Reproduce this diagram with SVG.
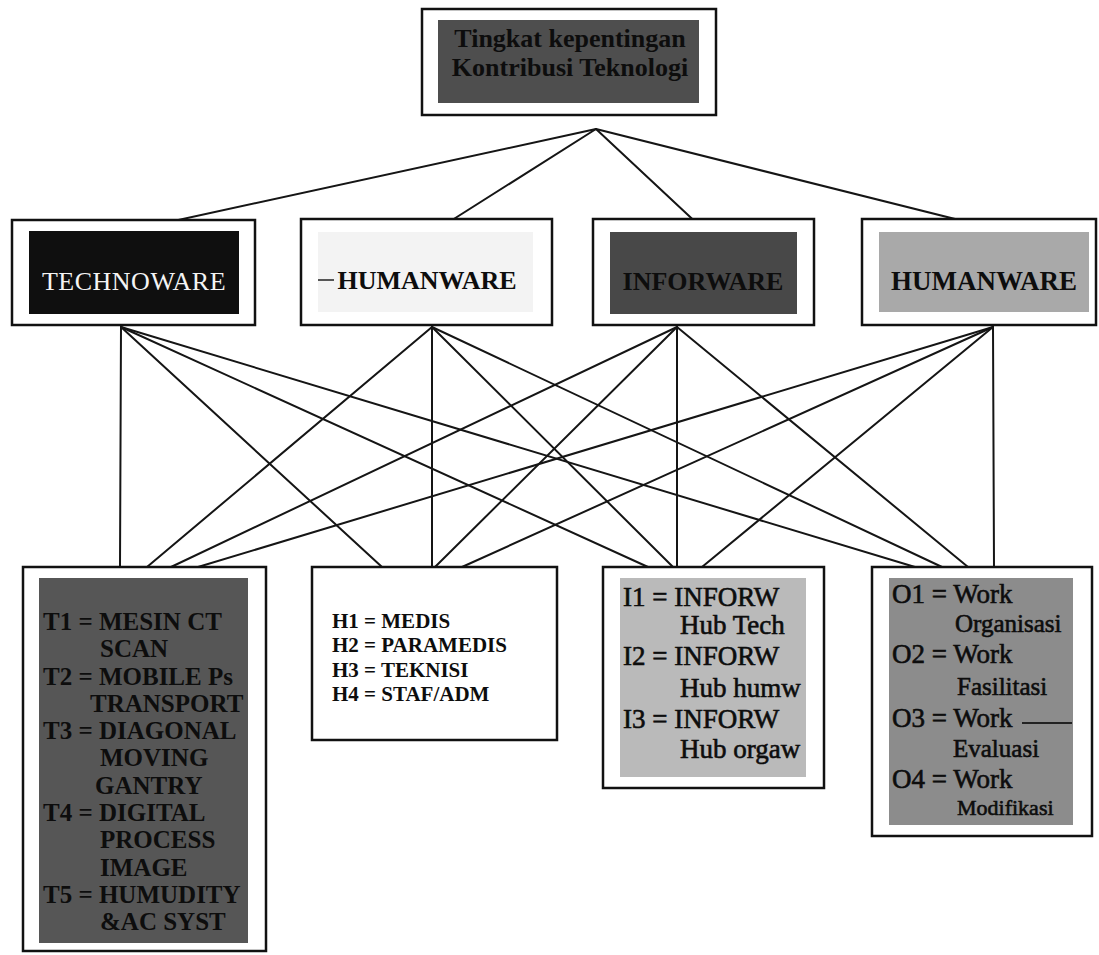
<svg xmlns="http://www.w3.org/2000/svg" width="1099" height="955" viewBox="0 0 1099 955">
  <style>
    .frame { fill: #ffffff; stroke: #111111; stroke-width: 2.5; }
    .edge { stroke: #151515; stroke-width: 2; fill: none; stroke-linecap: round; }
    .serif { font-family: "Liberation Serif", "Times New Roman", serif; }
    .bold { font-weight: bold; }
    .ink { fill: #0d0d0d; }
    .thick { stroke: #0d0d0d; stroke-width: 0.6; }
  </style>

  <rect x="0" y="0" width="1099" height="955" fill="#ffffff"/>

  <!-- connectors -->
  <g id="connectors">
    <!-- root to the four components -->
    <line class="edge" x1="596" y1="129" x2="137" y2="229"/>
    <line class="edge" x1="596" y1="129" x2="438" y2="229"/>
    <line class="edge" x1="596" y1="129" x2="703" y2="229"/>
    <line class="edge" x1="596" y1="129" x2="995" y2="229"/>

    <!-- TECHNOWARE to details -->
    <line class="edge" x1="121" y1="327" x2="120" y2="567"/>
    <line class="edge" x1="121" y1="327" x2="382" y2="567"/>
    <line class="edge" x1="121" y1="327" x2="648" y2="567"/>
    <line class="edge" x1="121" y1="327" x2="915" y2="567"/>

    <!-- HUMANWARE (left) to details -->
    <line class="edge" x1="432" y1="327" x2="147" y2="567"/>
    <line class="edge" x1="432" y1="327" x2="432" y2="567"/>
    <line class="edge" x1="432" y1="327" x2="673" y2="567"/>
    <line class="edge" x1="432" y1="327" x2="942" y2="567"/>

    <!-- INFORWARE to details -->
    <line class="edge" x1="677" y1="327" x2="171" y2="567"/>
    <line class="edge" x1="677" y1="327" x2="435" y2="567"/>
    <line class="edge" x1="677" y1="327" x2="677" y2="567"/>
    <line class="edge" x1="677" y1="327" x2="968" y2="567"/>

    <!-- HUMANWARE (right) to details -->
    <line class="edge" x1="993" y1="327" x2="198" y2="567"/>
    <line class="edge" x1="993" y1="327" x2="462" y2="567"/>
    <line class="edge" x1="993" y1="327" x2="702" y2="567"/>
    <line class="edge" x1="993" y1="327" x2="994" y2="567"/>
  </g>

  <!-- root node -->
  <g id="node-root">
    <rect class="frame" x="422" y="9" width="294" height="106"/>
    <rect x="438" y="20" width="261" height="83" fill="#4e4e4e"/>
    <text class="serif bold ink" x="570" y="47" font-size="26" text-anchor="middle">Tingkat kepentingan</text>
    <text class="serif bold ink" x="570" y="76" font-size="26" text-anchor="middle">Kontribusi Teknologi</text>
  </g>

  <!-- component nodes -->
  <g id="node-technoware">
    <rect class="frame" x="12" y="220" width="243" height="105"/>
    <rect x="29" y="231" width="210" height="83" fill="#0f0f0f"/>
    <text class="serif" x="134" y="290" font-size="26" fill="#f4f4f4" text-anchor="middle" letter-spacing="0.5">TECHNOWARE</text>
  </g>

  <g id="node-humanware-1">
    <rect class="frame" x="301" y="219" width="251" height="106"/>
    <rect x="318" y="232" width="215" height="80" fill="#f3f3f3"/>
    <line x1="318" y1="280" x2="334" y2="280" stroke="#222" stroke-width="1.5"/>
    <text class="serif bold ink" x="427" y="289" font-size="26" text-anchor="middle">HUMANWARE</text>
  </g>

  <g id="node-inforware">
    <rect class="frame" x="593" y="219" width="221" height="106"/>
    <rect x="610" y="232" width="187" height="82" fill="#484848"/>
    <text class="serif bold ink" x="703" y="290" font-size="26" text-anchor="middle">INFORWARE</text>
  </g>

  <g id="node-humanware-2">
    <rect class="frame" x="862" y="219" width="234" height="106"/>
    <rect x="879" y="232" width="210" height="80" fill="#a9a9a9"/>
    <text class="serif bold ink" x="984" y="290" font-size="27" text-anchor="middle">HUMANWARE</text>
  </g>

  <!-- detail nodes -->
  <g id="node-technoware-detail">
    <rect class="frame" x="23" y="567" width="243" height="384"/>
    <rect x="39" y="578" width="209" height="365" fill="#565656"/>
    <g class="serif bold ink" font-size="25">
      <text x="43" y="630">T1 = MESIN CT</text>
      <text x="100" y="657">SCAN</text>
      <text x="43" y="685">T2 = MOBILE Ps</text>
      <text x="90" y="712">TRANSPORT</text>
      <text x="43" y="739">T3 = DIAGONAL</text>
      <text x="100" y="766">MOVING</text>
      <text x="95" y="794">GANTRY</text>
      <text x="43" y="821">T4 = DIGITAL</text>
      <text x="100" y="848">PROCESS</text>
      <text x="100" y="876">IMAGE</text>
      <text x="43" y="903">T5 = HUMUDITY</text>
      <text x="100" y="930">&amp;AC SYST</text>
    </g>
  </g>

  <g id="node-humanware-detail">
    <rect class="frame" x="312" y="567" width="245" height="173"/>
    <g class="serif bold ink" font-size="21">
      <text x="332" y="628">H1 = MEDIS</text>
      <text x="332" y="652">H2 = PARAMEDIS</text>
      <text x="332" y="677">H3 = TEKNISI</text>
      <text x="332" y="701">H4 = STAF/ADM</text>
    </g>
  </g>

  <g id="node-inforware-detail">
    <rect class="frame" x="603" y="567" width="221" height="221"/>
    <rect x="620" y="578" width="186" height="199" fill="#bababa"/>
    <g class="serif ink thick" font-size="27">
      <text x="623" y="606">I1 = INFORW</text>
      <text x="680" y="634">Hub Tech</text>
      <text x="623" y="665">I2 = INFORW</text>
      <text x="680" y="697">Hub humw</text>
      <text x="623" y="728">I3 = INFORW</text>
      <text x="680" y="758">Hub orgaw</text>
    </g>
  </g>

  <g id="node-orgaware-detail">
    <rect class="frame" x="872" y="567" width="220" height="269"/>
    <rect x="889" y="578" width="184" height="247" fill="#8c8c8c"/>
    <g class="serif ink thick" font-size="27">
      <text x="892" y="603">O1 = Work</text>
      <text x="955" y="632" font-size="25">Organisasi</text>
      <text x="892" y="663">O2 = Work</text>
      <text x="957" y="695" font-size="25">Fasilitasi</text>
      <text x="892" y="727">O3 = Work</text>
      <text x="953" y="757" font-size="25">Evaluasi</text>
      <text x="892" y="788">O4 = Work</text>
      <text x="957" y="815" font-size="22">Modifikasi</text>
    </g>
    <line x1="1022" y1="723" x2="1072" y2="723" stroke="#222" stroke-width="2"/>
  </g>
</svg>
